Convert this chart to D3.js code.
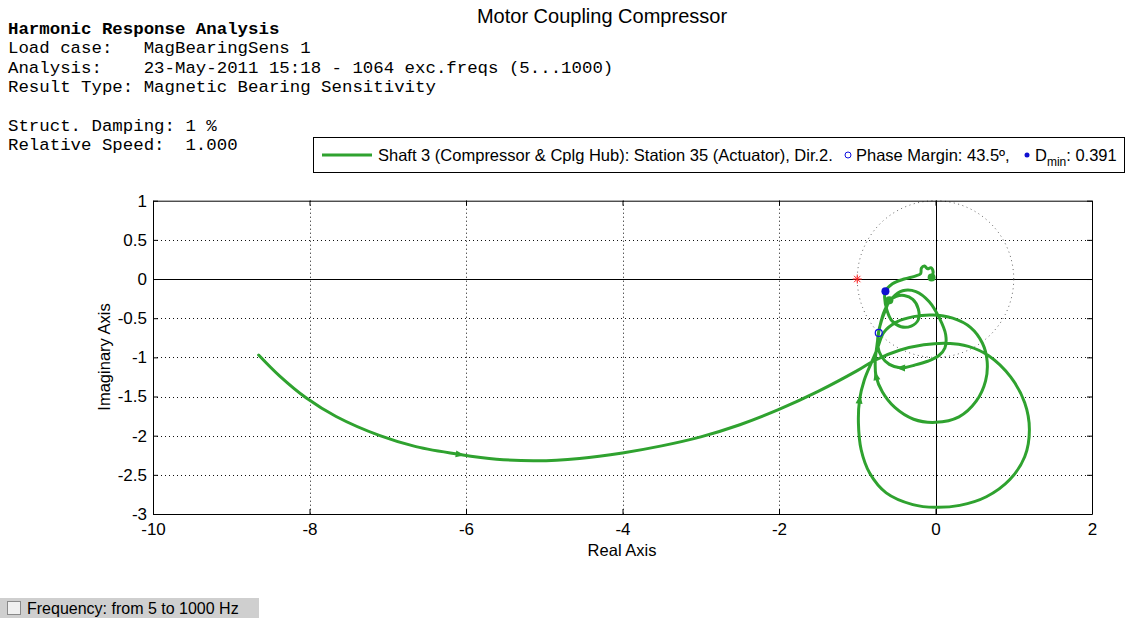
<!DOCTYPE html>
<html>
<head>
<meta charset="utf-8">
<script src="https://cdn.jsdelivr.net/npm/d3@7"></script>
<style>
  body { margin: 0; background: #fff; }
  svg { display: block; }
  .hdr { font-family: "Liberation Mono", "Courier New", monospace; font-size: 17.4px; fill: #000; }
  .sans { font-family: "Liberation Sans", Arial, sans-serif; }
  .axis text { font-family: "Liberation Sans", Arial, sans-serif; font-size: 17px; fill: #000; }
</style>
</head>
<body>
<svg id="chart" width="1126" height="618"></svg>
<script>
// tick values
const xTicks = [-10, -8, -6, -4, -2, 0, 2];
const yTicks = [1, 0.5, 0, -0.5, -1, -1.5, -2, -2.5, -3];

// Nyquist curve (real / imaginary parts, 5 -> 1000 Hz)
const curveRe = [
  -8.65, -8.38, -8.04, -7.66, -7.10, -6.64, -6.08, -5.61, -5.10, -4.55,
  -4.00, -3.50, -3.00, -2.50, -2.00, -1.50, -1.00, -0.78, -0.46,
  -0.15, 0.15, 0.42, 0.68, 0.96, 1.14, 1.20, 1.14, 0.95, 0.65,
  0.31, 0.00, -0.29, -0.63, -0.84, -0.95, -0.985, -0.97, -0.91, -0.82, -0.74,
  -0.66, -0.50, -0.28, -0.04, 0.22, 0.45, 0.60, 0.66, 0.64, 0.52,
  0.30, 0.00, -0.28, -0.52, -0.68, -0.76, -0.77, -0.75,
  -0.71, -0.65, -0.55, -0.42, -0.25, -0.08, 0.05, 0.13, 0.12, 0.04,
  -0.10, -0.27, -0.44, -0.59, -0.69, -0.74, -0.73, -0.69,
  -0.64, -0.59, -0.50, -0.40, -0.29, -0.22, -0.22, -0.31, -0.44, -0.56, -0.62,
  -0.65, -0.64, -0.55, -0.40, -0.25, -0.19, -0.18, -0.14, -0.10, -0.06, -0.03, -0.05
];
const curveIm = [
  -0.97, -1.24, -1.52, -1.755, -2.00, -2.14, -2.24, -2.30, -2.32, -2.29,
  -2.22, -2.13, -2.015, -1.86, -1.665, -1.435, -1.17, -1.04, -0.91,
  -0.84, -0.82, -0.86, -0.98, -1.25, -1.58, -1.92, -2.27, -2.56, -2.78,
  -2.89, -2.915, -2.88, -2.73, -2.48, -2.18, -1.84, -1.54, -1.29, -1.07, -0.88,
  -0.68, -0.55, -0.48, -0.46, -0.50, -0.62, -0.82, -1.05, -1.30, -1.56,
  -1.76, -1.83, -1.79, -1.64, -1.44, -1.24, -1.05, -0.86,
  -0.60, -0.40, -0.24, -0.15, -0.16, -0.29, -0.50, -0.71, -0.88, -0.98,
  -1.05, -1.10, -1.135, -1.09, -0.99, -0.84, -0.69, -0.53,
  -0.40, -0.28, -0.22, -0.21, -0.26, -0.38, -0.52, -0.60, -0.61, -0.53, -0.40,
  -0.24, -0.155, -0.06, 0.00, 0.04, 0.07, 0.14, 0.165, 0.13, 0.145, 0.09, 0.02
];

// direction arrows on the curve
const arrowRe = [-6.08, -0.97, -0.76, -0.44];
const arrowIm = [-2.24, -1.54, -1.24, -1.135];

// dense end clusters
const blobRe = [-0.59, -0.05];
const blobIm = [-0.27, 0.02];

// stability markers
const pmRe = [-0.725], pmIm = [-0.688];     // phase margin 43.5
const dminRe = [-0.64], dminIm = [-0.155];  // Dmin 0.391
const critRe = [-1], critIm = [0];

const headerLines = [
  "Harmonic Response Analysis",
  "Load case:   MagBearingSens 1",
  "Analysis:    23-May-2011 15:18 - 1064 exc.freqs (5...1000)",
  "Result Type: Magnetic Bearing Sensitivity",
  "",
  "Struct. Damping: 1 %",
  "Relative Speed:  1.000"
];

const green = "#2fa22f";

let svg = d3.select("#chart");

let pLeft = 153, pRight = 1092, pTop = 200.7, pBottom = 514;

let x = d3.scaleLinear().domain([-10, 2]).range([pLeft, pRight]);
let y = d3.scaleLinear().domain([-3, 1]).range([pBottom, pTop]);

// title + header text
svg.append("text")
  .attr("class", "sans")
  .attr("x", 602).attr("y", 23)
  .attr("text-anchor", "middle")
  .style("font-size", "20px")
  .text("Motor Coupling Compressor");

svg.selectAll(".hdr")
  .data(headerLines)
  .enter()
  .append("text")
  .attr("class", "hdr")
  .attr("x", 8)
  .attr("y", (d, i) => 34 + i * 19.3)
  .style("white-space", "pre")
  .style("font-weight", (d, i) => i === 0 ? "bold" : "normal")
  .text(d => d);

// grid
let grid = svg.append("g").attr("stroke", "#111").attr("stroke-width", 1)
  .attr("stroke-dasharray", "1,3");
grid.selectAll("line.gx")
  .data(xTicks.filter(d => d !== 0 && d !== -10 && d !== 2))
  .enter().append("line")
  .attr("x1", d => Math.round(x(d)) + 0.5).attr("x2", d => Math.round(x(d)) + 0.5)
  .attr("y1", pTop).attr("y2", pBottom);
grid.selectAll("line.gy")
  .data(yTicks.filter(d => d !== 0 && d !== 1 && d !== -3))
  .enter().append("line")
  .attr("y1", d => Math.round(y(d)) + 0.5).attr("y2", d => Math.round(y(d)) + 0.5)
  .attr("x1", pLeft).attr("x2", pRight);

// axes through the origin
svg.append("line")
  .attr("x1", Math.round(x(0)) + 0.5).attr("x2", Math.round(x(0)) + 0.5)
  .attr("y1", pTop).attr("y2", pBottom).attr("stroke", "#000");
svg.append("line")
  .attr("y1", Math.round(y(0)) + 0.5).attr("y2", Math.round(y(0)) + 0.5)
  .attr("x1", pLeft).attr("x2", pRight).attr("stroke", "#000");

// unit circle
let circ = d3.range(0, 361, 3);
svg.append("path")
  .datum(circ)
  .attr("fill", "none")
  .attr("stroke", "#666")
  .attr("stroke-width", 1)
  .attr("stroke-dasharray", "1,3.5")
  .attr("d", d3.line()
    .x(a => x(Math.cos(a * Math.PI / 180)))
    .y(a => y(Math.sin(a * Math.PI / 180))));

// axes
let fmt = d => String(d);
svg.append("g")
  .attr("class", "axis")
  .attr("transform", "translate(0," + pBottom + ")")
  .call(d3.axisBottom(x).tickValues(xTicks).tickFormat(fmt).tickSize(-5).tickPadding(9).tickSizeOuter(0));
svg.append("g")
  .attr("class", "axis")
  .attr("transform", "translate(" + pLeft + ",0)")
  .call(d3.axisLeft(y).tickValues(yTicks).tickFormat(fmt).tickSize(-5).tickPadding(6).tickSizeOuter(0));
svg.append("g")
  .attr("class", "axis")
  .attr("transform", "translate(0," + pTop + ")")
  .call(d3.axisTop(x).tickValues(xTicks).tickFormat("").tickSize(-5).tickSizeOuter(0));
svg.append("g")
  .attr("class", "axis")
  .attr("transform", "translate(" + pRight + ",0)")
  .call(d3.axisRight(y).tickValues(yTicks).tickFormat("").tickSize(-5).tickSizeOuter(0));
svg.selectAll(".axis path.domain").attr("stroke", "#000");
svg.selectAll(".axis line").attr("stroke", "#000");

// axis labels
svg.append("text")
  .attr("class", "sans")
  .attr("x", 622).attr("y", 556)
  .attr("text-anchor", "middle")
  .style("font-size", "16.5px")
  .text("Real Axis");
svg.append("text")
  .attr("class", "sans")
  .attr("transform", "translate(110,357) rotate(-90)")
  .attr("text-anchor", "middle")
  .style("font-size", "16.5px")
  .text("Imaginary Axis");

// nyquist curve
let pts = curveRe.map((r, i) => [x(r), y(curveIm[i])]);
svg.append("path")
  .datum(pts)
  .attr("fill", "none")
  .attr("stroke", green)
  .attr("stroke-width", 3)
  .attr("stroke-linejoin", "round")
  .attr("stroke-linecap", "round")
  .attr("d", d3.line().curve(d3.curveCatmullRom.alpha(0.5)));

// arrows
arrowRe.forEach((r, k) => {
  let ax = x(r), ay = y(arrowIm[k]);
  let best = 0, bd = Infinity;
  pts.forEach((p, i) => {
    let dd = (p[0] - ax) ** 2 + (p[1] - ay) ** 2;
    if (dd < bd) { bd = dd; best = i; }
  });
  let a = pts[Math.max(best - 1, 0)], b = pts[Math.min(best + 1, pts.length - 1)];
  let ang = Math.atan2(b[1] - a[1], b[0] - a[0]) * 180 / Math.PI;
  svg.append("path")
    .attr("d", "M5,0L-4,-3.5L-4,3.5Z")
    .attr("fill", green)
    .attr("transform", "translate(" + ax + "," + ay + ") rotate(" + ang + ")");
});

svg.selectAll("circle.blob")
  .data(blobRe)
  .enter().append("circle")
  .attr("cx", d => x(d))
  .attr("cy", (d, i) => y(blobIm[i]))
  .attr("r", 4)
  .attr("fill", green);

// phase margin (open) and Dmin (filled)
svg.append("circle")
  .attr("cx", x(pmRe[0])).attr("cy", y(pmIm[0])).attr("r", 3.5)
  .attr("fill", "none").attr("stroke", "#1010e0").attr("stroke-width", 1.2);
svg.append("circle")
  .attr("cx", x(dminRe[0])).attr("cy", y(dminIm[0])).attr("r", 4)
  .attr("fill", "#1010d0");

// critical point asterisk
let cx0 = x(critRe[0]), cy0 = y(critIm[0]);
[0, 45, 90, 135].forEach(a => {
  let dx = 4.5 * Math.cos(a * Math.PI / 180), dy = 4.5 * Math.sin(a * Math.PI / 180);
  svg.append("line")
    .attr("x1", cx0 - dx).attr("x2", cx0 + dx)
    .attr("y1", cy0 - dy).attr("y2", cy0 + dy)
    .attr("stroke", "#ff2020").attr("stroke-width", 1);
});

// legend
let lg = svg.append("g");
lg.append("rect")
  .attr("x", 313.5).attr("y", 137.5).attr("width", 811).attr("height", 35)
  .attr("fill", "#fff").attr("stroke", "#000");
lg.append("line")
  .attr("x1", 322).attr("x2", 372).attr("y1", 155).attr("y2", 155)
  .attr("stroke", green).attr("stroke-width", 3);
lg.append("text")
  .attr("class", "sans").attr("x", 378).attr("y", 161)
  .style("font-size", "16.5px")
  .text("Shaft 3 (Compressor & Cplg Hub): Station 35 (Actuator), Dir.2.");
lg.append("circle")
  .attr("cx", 848).attr("cy", 155).attr("r", 3)
  .attr("fill", "none").attr("stroke", "#1010e0");
lg.append("text")
  .attr("class", "sans").attr("x", 856).attr("y", 161)
  .style("font-size", "16.5px")
  .text("Phase Margin: 43.5º,");
lg.append("circle")
  .attr("cx", 1027).attr("cy", 155).attr("r", 2.5)
  .attr("fill", "#1010d0");
let dt = lg.append("text")
  .attr("class", "sans").attr("x", 1035).attr("y", 161)
  .style("font-size", "16.5px");
dt.append("tspan").text("D");
dt.append("tspan").attr("dy", 5).style("font-size", "12px").text("min");
dt.append("tspan").attr("dy", -5).text(": 0.391");

// frequency checkbox strip
svg.append("rect")
  .attr("x", 0).attr("y", 598).attr("width", 259).attr("height", 20)
  .attr("fill", "#cfcfcf");
svg.append("rect")
  .attr("x", 7.5).attr("y", 601.5).attr("width", 13).attr("height", 13)
  .attr("fill", "#f0f0f0").attr("stroke", "#8a8a8a");
svg.append("text")
  .attr("class", "sans").attr("x", 27).attr("y", 614)
  .style("font-size", "16px")
  .text("Frequency: from 5 to 1000 Hz");
</script>
</body>
</html>
